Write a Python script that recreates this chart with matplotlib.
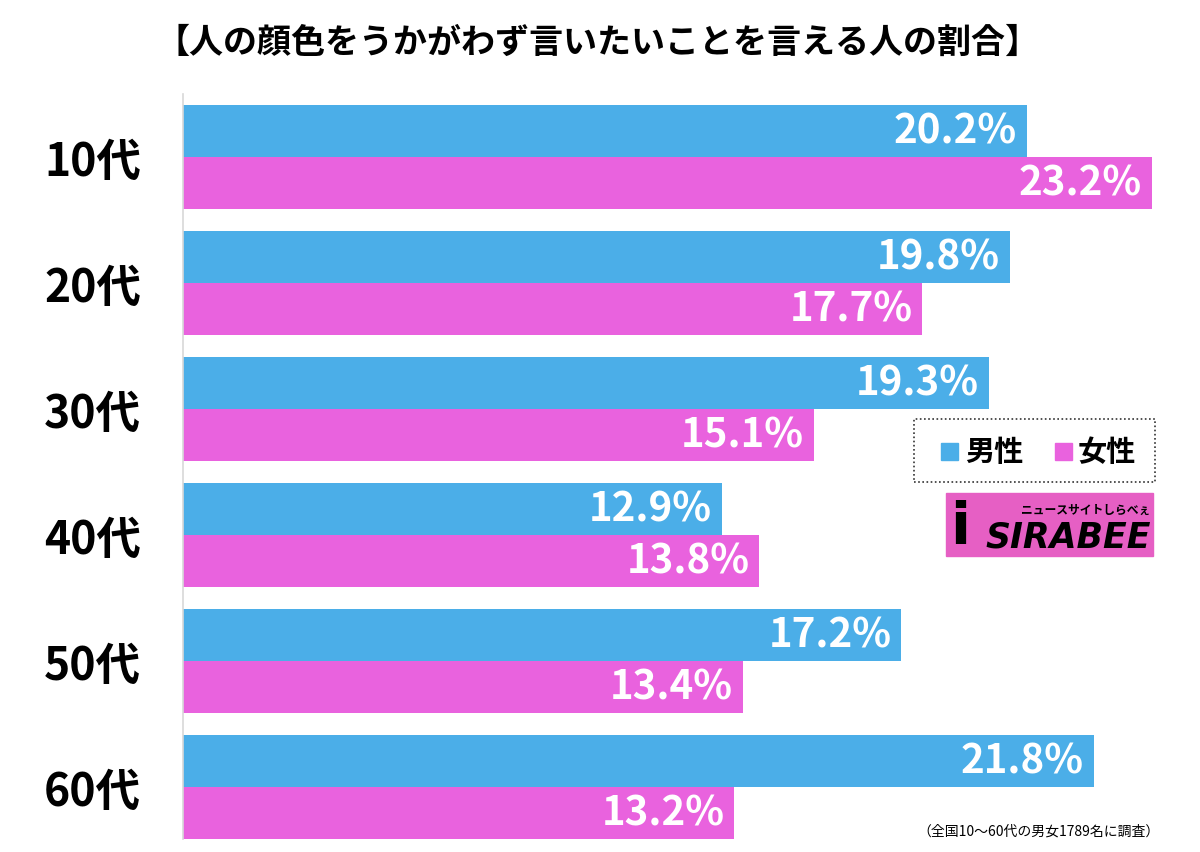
import matplotlib
matplotlib.use("Agg")
import matplotlib.pyplot as plt
from matplotlib.patches import Rectangle

plt.rcParams['font.family'] = ['Noto Sans CJK JP', 'DejaVu Sans']

categories = ["10代", "20代", "30代", "40代", "50代", "60代"]
male = [20.2, 19.8, 19.3, 12.9, 17.2, 21.8]
female = [23.2, 17.7, 15.1, 13.8, 13.4, 13.2]
series_names = ["男性", "女性"]
title = "【人の顔色をうかがわず言いたいことを言える人の割合】"
footnote = "（全国10〜60代の男女1789名に調査）"

BLUE = "#4BAEE8"
PINK = "#E962DE"

W, H = 1200, 853
fig = plt.figure(figsize=(W / 100, H / 100), dpi=100)

ax_left, ax_right = 183, 1200
ax_top, ax_bot = 95, 840
ax = fig.add_axes([ax_left / W, 1 - ax_bot / H, (ax_right - ax_left) / W, (ax_bot - ax_top) / H])
px_per_pct = (1152 - 183) / 23.2
ax.set_xlim(0, (ax_right - ax_left) / px_per_pct)
ax.set_ylim(5.41, -0.5)

bh = 52 / 126
ys = list(range(len(categories)))
ax.barh([y - bh / 2 for y in ys], male, height=bh, color=BLUE)
ax.barh([y + bh / 2 for y in ys], female, height=bh, color=PINK)

off = 10 / px_per_pct
for y, m, f in zip(ys, male, female):
    ax.text(m - off, y - bh / 2, f"{m:.1f}%", color="white", fontsize=29, fontweight="bold",
            ha="right", va="center")
    ax.text(f - off, y + bh / 2, f"{f:.1f}%", color="white", fontsize=29, fontweight="bold",
            ha="right", va="center")

for s in ["top", "right", "bottom"]:
    ax.spines[s].set_visible(False)
ax.spines["left"].set_color("#d8d8d8")
ax.spines["left"].set_linewidth(1.2)
ax.set_xticks([])
ax.set_yticks(ys)
ax.set_yticklabels(categories, fontsize=32, fontweight="bold")
ax.tick_params(axis="y", length=0, pad=30)

fig.text(597 / W, 1 - 42 / H, title, ha="center", va="center", fontsize=24.5, fontweight="bold")
fig.text(1160 / W, 1 - 832 / H, footnote, ha="right", va="center", fontsize=10)

# legend box
fig.patches.append(Rectangle((914 / W, 1 - 483 / H), (1155 - 914) / W, (483 - 420) / H,
                             transform=fig.transFigure, fill=False, edgecolor="#333333",
                             linestyle=(0, (1, 1.5)), linewidth=1.2))
fig.patches.append(Rectangle((941 / W, 1 - 461 / H), 17 / W, 17 / H, transform=fig.transFigure,
                             color=BLUE))
fig.text(965 / W, 1 - 452 / H, series_names[0], fontsize=21, fontweight="bold", va="center")
fig.patches.append(Rectangle((1055 / W, 1 - 461 / H), 17 / W, 17 / H, transform=fig.transFigure,
                             color=PINK))
fig.text(1078 / W, 1 - 452 / H, series_names[1], fontsize=21, fontweight="bold", va="center")

# logo
fig.patches.append(Rectangle((946 / W, 1 - 557 / H), (1153 - 946) / W, (557 - 494) / H,
                             transform=fig.transFigure, color="#E65FC4"))
fig.text(1150 / W, 1 - 510 / H, "ニュースサイトしらべぇ", fontsize=8.5, fontweight="bold",
         ha="right", va="center", color="black")
fig.text(1151 / W, 1 - 538 / H, "SIRABEE", fontsize=25, fontweight="heavy", style="italic",
         ha="right", va="center", color="black", family="DejaVu Sans")
fig.text(960 / W, 1 - 528 / H, "i", fontsize=42, fontweight="heavy", ha="center", va="center",
         color="black", family="DejaVu Sans")

fig.savefig("out.png", dpi=100, facecolor="white")
